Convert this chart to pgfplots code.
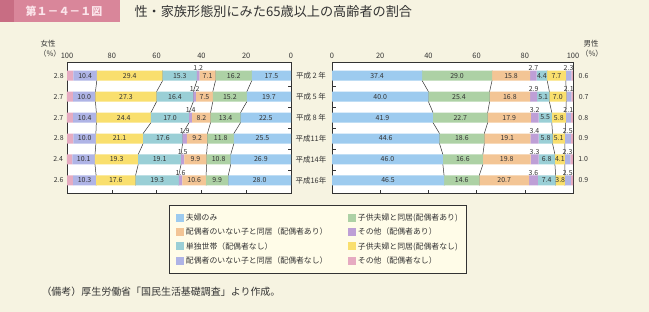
\documentclass[border=0pt]{standalone}
\usepackage{pgfplots}
\pgfplotsset{compat=1.18}
\usepackage{pgfplotstable}
\usepackage{fontspec}
\setmainfont{Noto Sans CJK JP}

\definecolor{bgcream}{HTML}{F6F3E1}
\definecolor{hdrpink}{HTML}{D9869A}
\definecolor{hdrdark}{HTML}{C86D83}
\definecolor{hdrtext}{HTML}{FBE4EA}
\definecolor{txt}{HTML}{333333}
\definecolor{cblue}{HTML}{9DCBEF}
\definecolor{cgreen}{HTML}{ADD1A5}
\definecolor{corange}{HTML}{F3C595}
\definecolor{cpurple}{HTML}{BE9FD6}
\definecolor{cteal}{HTML}{9ACFD6}
\definecolor{cyellow}{HTML}{F9DF6E}
\definecolor{clav}{HTML}{AFB4E6}
\definecolor{cpink}{HTML}{E6ABC1}
\definecolor{legbg}{HTML}{FFFCE8}

% women (left chart), values from 0 outward
\pgfplotstableread{
r blue green orange purple teal yellow lav pink
1 17.5 16.2 7.1 1.2 15.3 29.4 10.4 2.8
2 19.7 15.2 7.5 1.2 16.4 27.3 10.0 2.7
3 22.5 13.4 8.2 1.4 17.0 24.4 10.4 2.7
4 25.5 11.8 9.2 1.9 17.6 21.1 10.0 2.8
5 26.9 10.8 9.9 1.5 19.1 19.3 10.1 2.4
6 28.0 9.9 10.6 1.6 19.3 17.6 10.3 2.6
}\female
% men (right chart)
\pgfplotstableread{
r blue green orange purple teal yellow lav pink
1 37.4 29.0 15.8 2.7 4.4 7.7 2.3 0.6
2 40.0 25.4 16.8 2.9 5.1 7.0 2.1 0.7
3 41.9 22.7 17.9 3.2 5.5 5.8 2.1 0.8
4 44.6 18.6 19.1 3.4 5.8 5.1 2.5 0.9
5 46.0 16.6 19.8 3.3 6.8 4.1 2.3 1.0
6 46.5 14.6 20.7 3.6 7.4 3.8 2.5 0.9
}\male

\pgfplotsset{
  base/.style={
    scale only axis, height=131bp, anchor=south west,
    ymin=0.35, ymax=6.6, y dir=reverse, xmin=0, xmax=100, clip=false,
  },
  barax/.style={
    xbar stacked, bar width=10bp, point meta=explicit,
    xtick={0,20,...,100}, xtick pos=left, xticklabel pos=right,
    major tick length=3.5bp,
    tick style={txt, line width=0.5bp},
    axis line style={txt, line width=0.6bp},
    /pgf/number format/assume math mode=true,
    xticklabel style={font=\fontsize{7.5}{9}\selectfont, text=txt},
    nodes near coords={\pgfmathprintnumber[fixed,fixed zerofill,precision=1]{\pgfplotspointmeta}},
    every node near coord/.append style={font=\fontsize{7}{8}\selectfont, text=txt, inner sep=0.5bp},
  },
  bars/.style={fill=#1, draw=none,
    legend image code/.code={\fill[fill=#1] (0bp,-4bp) rectangle (8bp,4bp);}},
  conn/.style={txt, line width=0.5bp, forget plot},
}

\begin{document}
\begin{tikzpicture}
\path[use as bounding box, fill=bgcream] (0,0) rectangle (649bp,-312bp);
% header
\fill[hdrpink] (0,0) rectangle (120bp,-22bp);
\fill[hdrdark] (0,0) rectangle (14bp,-22bp);
\node[text=hdrtext, font=\fontsize{11}{12}\selectfont\bfseries] at (64bp,-11bp) {第１－４－１図};
\node[anchor=west, text=txt, font=\fontsize{13.2}{15}\selectfont] at (131bp,-11.5bp) {性・家族形態別にみた65歳以上の高齢者の割合};
% plot backgrounds
\fill[white] (67bp,-62bp) rectangle (291bp,-193bp);
\fill[white] (332bp,-62bp) rectangle (573bp,-193bp);
% side labels
\node[text=txt, font=\fontsize{7.5}{9}\selectfont] at (48bp,-44bp) {女性};
\node[text=txt, font=\fontsize{7.5}{9}\selectfont] at (50bp,-53.5bp) {（\%）};
\node[text=txt, font=\fontsize{7.5}{9}\selectfont] at (591bp,-44bp) {男性};
\node[text=txt, font=\fontsize{7.5}{9}\selectfont] at (592bp,-53.5bp) {（\%）};

% ---------- left connectors ----------
\begin{axis}[base, width=224bp, at={(67bp,-193bp)}, x dir=reverse, hide axis]
\addplot[conn] coordinates {(17.5,0.76)(17.5,1.24)(19.7,1.76)(19.7,2.24)(22.5,2.76)(22.5,3.24)(25.5,3.76)(25.5,4.24)(26.9,4.76)(26.9,5.24)(28.0,5.76)(28.0,6.24)};
\addplot[conn] coordinates {(33.7,0.76)(33.7,1.24)(34.9,1.76)(34.9,2.24)(35.9,2.76)(35.9,3.24)(37.3,3.76)(37.3,4.24)(37.7,4.76)(37.7,5.24)(37.9,5.76)(37.9,6.24)};
\addplot[conn] coordinates {(42.0,0.76)(42.0,1.24)(43.6,1.76)(43.6,2.24)(45.5,2.76)(45.5,3.24)(48.4,3.76)(48.4,4.24)(49.1,4.76)(49.1,5.24)(50.1,5.76)(50.1,6.24)};
\addplot[conn] coordinates {(57.3,0.76)(57.3,1.24)(60.0,1.76)(60.0,2.24)(62.5,2.76)(62.5,3.24)(66.0,3.76)(66.0,4.24)(68.2,4.76)(68.2,5.24)(69.4,5.76)(69.4,6.24)};
\addplot[conn] coordinates {(86.7,0.76)(86.7,1.24)(87.3,1.76)(87.3,2.24)(86.9,2.76)(86.9,3.24)(87.1,3.76)(87.1,4.24)(87.5,4.76)(87.5,5.24)(87.0,5.76)(87.0,6.24)};
\end{axis}

% ---------- right connectors ----------
\begin{axis}[base, width=241bp, at={(332bp,-193bp)}, hide axis]
\addplot[conn] coordinates {(37.4,0.76)(37.4,1.24)(40.0,1.76)(40.0,2.24)(41.9,2.76)(41.9,3.24)(44.6,3.76)(44.6,4.24)(46.0,4.76)(46.0,5.24)(46.5,5.76)(46.5,6.24)};
\addplot[conn] coordinates {(66.4,0.76)(66.4,1.24)(65.4,1.76)(65.4,2.24)(64.6,2.76)(64.6,3.24)(63.2,3.76)(63.2,4.24)(62.6,4.76)(62.6,5.24)(61.1,5.76)(61.1,6.24)};
\addplot[conn] coordinates {(89.3,0.76)(89.3,1.24)(90.2,1.76)(90.2,2.24)(91.2,2.76)(91.2,3.24)(91.5,3.76)(91.5,4.24)(92.5,4.76)(92.5,5.24)(92.8,5.76)(92.8,6.24)};
\addplot[conn] coordinates {(97.0,0.76)(97.0,1.24)(97.2,1.76)(97.2,2.24)(97.0,2.76)(97.0,3.24)(96.6,3.76)(96.6,4.24)(96.6,4.76)(96.6,5.24)(96.6,5.76)(96.6,6.24)};
\end{axis}

% ---------- left bars (women) ----------
\begin{axis}[base, barax, width=224bp, at={(67bp,-193bp)}, x dir=reverse,
  ytick={1.5,2.5,3.5,4.5,5.5}, yticklabels={}, ytick pos=right]
\addplot[bars=cblue] table[x=blue, y=r, meta=blue] {\female};
\addplot[bars=cgreen] table[x=green, y=r, meta=green] {\female};
\addplot[bars=corange] table[x=orange, y=r, meta=orange] {\female};
\addplot[bars=cpurple, every node near coord/.append style={align=center, anchor=south, yshift=4.5bp}] table[x=purple, y=r, meta=purple] {\female};
\addplot[bars=cteal] table[x=teal, y=r, meta=teal] {\female};
\addplot[bars=cyellow] table[x=yellow, y=r, meta=yellow] {\female};
\addplot[bars=clav] table[x=lav, y=r, meta=lav] {\female};
\addplot[bars=cpink, every node near coord/.append style={anchor=east, xshift=-6bp}] table[x=pink, y=r, meta=pink] {\female};
\end{axis}

% ---------- right bars (men) ----------
\begin{axis}[base, barax, width=241bp, at={(332bp,-193bp)},
  ytick={1,2,3,4,5,6},
  yticklabels={平成 2 年,平成 5 年,平成 8 年,平成11年,平成14年,平成16年},
  ytick pos=left, ytick style={draw=none},
  yticklabel style={anchor=center, xshift=-21bp, font=\fontsize{7.5}{9}\selectfont, text=txt},
  extra y ticks={1.5,2.5,3.5,4.5,5.5}, extra y tick labels={},
  extra y tick style={ytick style={draw=txt}},
  legend columns=2, legend cell align=left,
  legend style={at={(axis description cs:-0.676,-0.092)}, anchor=north west,
    fill=legbg, draw=txt, line width=0.7bp, inner xsep=7bp, inner ysep=6.5bp,
    font=\fontsize{7.9}{9}\selectfont, text=txt, row sep=3bp,
    nodes={inner sep=1.5bp, text height=6.8bp, text depth=1.6bp}},
]
\addplot[bars=cblue] table[x=blue, y=r, meta=blue] {\male};
\addlegendentry{\makebox[161bp][l]{夫婦のみ}}
\addplot[bars=cgreen] table[x=green, y=r, meta=green] {\male};
\addlegendentry{子供夫婦と同居(配偶者あり)}
\addplot[bars=corange] table[x=orange, y=r, meta=orange] {\male};
\addlegendentry{\makebox[161bp][l]{配偶者のいない子と同居（配偶者あり）}}
\addplot[bars=cpurple, every node near coord/.append style={align=center, anchor=south, yshift=4.5bp}] table[x=purple, y=r, meta=purple] {\male};
\addlegendentry{その他（配偶者あり）}
\addplot[bars=cteal] table[x=teal, y=r, meta=teal] {\male};
\addlegendentry{\makebox[161bp][l]{単独世帯（配偶者なし）}}
\addplot[bars=cyellow] table[x=yellow, y=r, meta=yellow] {\male};
\addlegendentry{子供夫婦と同居(配偶者なし)}
\addplot[bars=clav, every node near coord/.append style={align=center, anchor=south, yshift=4.5bp}] table[x=lav, y=r, meta=lav] {\male};
\addlegendentry{\makebox[161bp][l]{配偶者のいない子と同居（配偶者なし）}}
\addplot[bars=cpink, every node near coord/.append style={anchor=west, xshift=6bp}] table[x=pink, y=r, meta=pink] {\male};
\addlegendentry{その他（配偶者なし）}
\end{axis}

% footnote
\node[anchor=west, text=txt, font=\fontsize{10}{12}\selectfont] at (38bp,-292bp) {（備考）厚生労働省「国民生活基礎調査」より作成。};
\end{tikzpicture}
\end{document}
